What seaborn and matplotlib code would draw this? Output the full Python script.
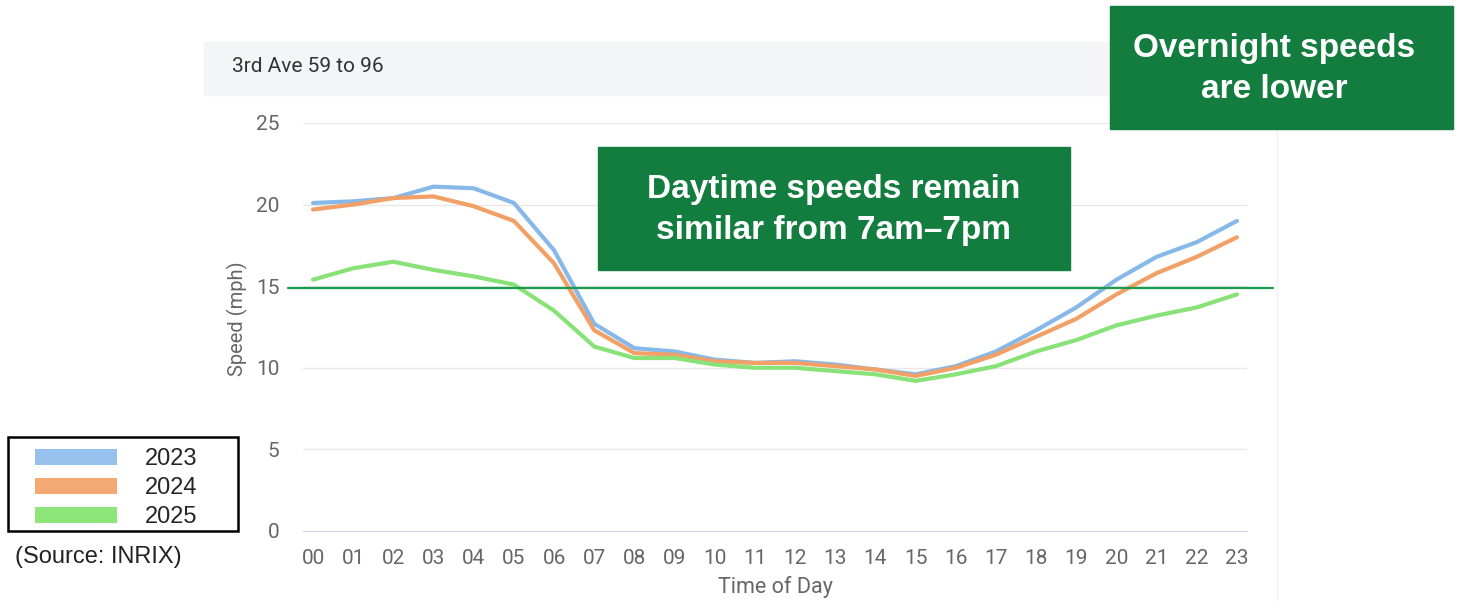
import matplotlib.pyplot as plt
import seaborn as sns
import pandas as pd
from matplotlib.patches import Rectangle, Patch
from matplotlib.lines import Line2D

# hourly average speeds (mph)
hours = ['00', '01', '02', '03', '04', '05', '06', '07', '08', '09', '10', '11',
         '12', '13', '14', '15', '16', '17', '18', '19', '20', '21', '22', '23']
speed_2023 = [20.1, 20.2, 20.4, 21.1, 21.0, 20.1, 17.2, 12.7, 11.2, 11.0, 10.5, 10.3,
              10.4, 10.2, 9.9, 9.6, 10.1, 11.0, 12.3, 13.7, 15.4, 16.8, 17.7, 19.0]
speed_2024 = [19.7, 20.0, 20.4, 20.5, 19.9, 19.0, 16.4, 12.3, 10.9, 10.8, 10.4, 10.3,
              10.3, 10.1, 9.9, 9.5, 10.0, 10.8, 11.9, 13.0, 14.5, 15.8, 16.8, 18.0]
speed_2025 = [15.4, 16.1, 16.5, 16.0, 15.6, 15.1, 13.5, 11.3, 10.6, 10.6, 10.2, 10.0,
              10.0, 9.8, 9.6, 9.2, 9.6, 10.1, 11.0, 11.7, 12.6, 13.2, 13.7, 14.5]
years = ['2023', '2024', '2025']
ref_speed = 14.9
y_ticks = [0, 5, 10, 15, 20, 25]

line_colors = {'2023': '#86b8e8', '2024': '#f2a066', '2025': '#88e277'}
patch_colors = ['#95c1ec', '#f4a874', '#8ee57a']
box_green = '#137c3f'

df = pd.DataFrame({
    'hour': list(range(len(hours))) * 3,
    'speed': speed_2023 + speed_2024 + speed_2025,
    'year': [y for y in years for _ in hours],
})

sns.set_style('white')
plt.rcParams['font.family'] = ['Roboto', 'DejaVu Sans']

fig = plt.figure(figsize=(14.61, 6.01), dpi=100)
W, H = 1461, 601

def fx(px):
    return px / W

def fy(py):
    return 1 - py / H

# title bar of the card
fig.patches.append(Rectangle((fx(204), fy(95)), fx(1277) - fx(204), fy(42) - fy(95),
                             transform=fig.transFigure, color='#f4f5f7', zorder=0))
fig.text(fx(232), fy(66), '3rd Ave 59 to 96', fontsize=15, color='#333333', va='center')
fig.lines.append(Line2D([fx(1277), fx(1277)], [fy(96), 0], transform=fig.transFigure,
                        color='#f0f0f0', lw=1))

ax = fig.add_axes([fx(303), fy(531), fx(1247) - fx(303), fy(123) - fy(531)])
sns.lineplot(data=df, x='hour', y='speed', hue='year', palette=line_colors,
             linewidth=3, ax=ax, legend=False, zorder=3)

ax.set_xlim(-0.25, 23.25)
ax.set_ylim(0, 25)
ax.set_xticks(range(len(hours)))
ax.set_xticklabels(hours)
ax.set_yticks(y_ticks)
ax.grid(axis='y', color='#e8e8e8', lw=1)
ax.grid(axis='x', visible=False)
for s in ['top', 'right', 'left']:
    ax.spines[s].set_visible(False)
ax.spines['bottom'].set_color('#ccd6eb')
ax.tick_params(axis='x', length=9, color='#ccd6eb', pad=4, labelsize=15, labelcolor='#666666')
ax.tick_params(axis='y', length=0, pad=17, labelsize=15, labelcolor='#666666')
ax.set_xlabel('Time of Day', fontsize=15.5, color='#666666')
ax.set_ylabel('Speed (mph)', fontsize=14.5, color='#666666')
ax.xaxis.set_label_coords(0.5, -0.11)
ax.yaxis.set_label_coords(-0.058, 0.52)

# reference line at the overnight 2025 level
ax.axhline(ref_speed, xmin=-0.016, xmax=1.028, color='#1a9a4a', lw=1.6,
           clip_on=False, zorder=4)

# annotation boxes
fig.patches.append(Rectangle((fx(598), fy(270)), fx(1070) - fx(598), fy(147) - fy(270),
                             transform=fig.transFigure, color=box_green, zorder=5))
fig.text(fx(834), fy(210), 'Daytime speeds remain\nsimilar from 7am\u20137pm',
         ha='center', va='center', fontsize=24, color='white', fontweight='bold',
         family='Liberation Sans', linespacing=1.4, zorder=6)
fig.patches.append(Rectangle((fx(1110), fy(129)), fx(1453) - fx(1110), fy(6) - fy(129),
                             transform=fig.transFigure, color=box_green, zorder=5))
fig.text(fx(1274), fy(69), 'Overnight speeds\nare lower',
         ha='center', va='center', fontsize=24, color='white', fontweight='bold',
         family='Liberation Sans', linespacing=1.4, zorder=6)

# legend: frame drawn separately so the padding matches the original
fig.patches.append(Rectangle((fx(8), fy(531)), fx(238) - fx(8), fy(437) - fy(531),
                             transform=fig.transFigure, fill=False, edgecolor='black',
                             lw=1.8, zorder=5))
handles = [Patch(facecolor=c, edgecolor='none') for c in patch_colors]
leg = fig.legend(handles, years, loc='upper left', bbox_to_anchor=(fx(35), fy(448)),
                 frameon=False, handlelength=3.47, handleheight=0.64, handletextpad=1.19,
                 borderpad=0, labelspacing=0.3, borderaxespad=0,
                 prop={'family': 'Liberation Sans', 'size': 17})
fig.text(fx(15), fy(557), '(Source: INRIX)', fontsize=17, color='#222222',
         family='Liberation Sans', va='center')

fig.savefig('out.png', dpi=100)
